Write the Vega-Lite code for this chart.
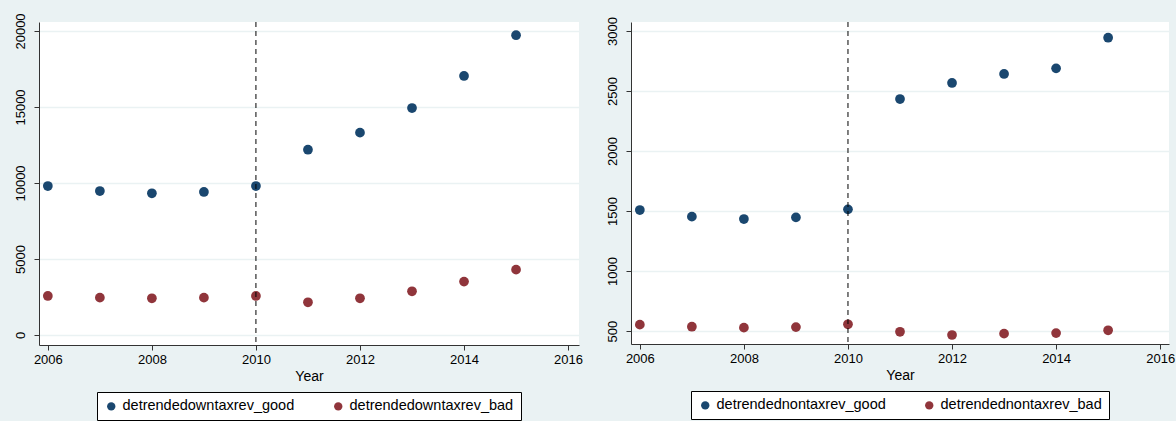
{
  "$schema": "https://vega.github.io/schema/vega-lite/v6.json",
  "background": "#eaf2f3",
  "padding": {"left": 13, "top": 12, "right": 5, "bottom": 1},
  "datasets": {
    "own": [
      {"year": 2006, "series": "detrendedowntaxrev_good", "value": 9800},
      {"year": 2007, "series": "detrendedowntaxrev_good", "value": 9470},
      {"year": 2008, "series": "detrendedowntaxrev_good", "value": 9320},
      {"year": 2009, "series": "detrendedowntaxrev_good", "value": 9410},
      {"year": 2010, "series": "detrendedowntaxrev_good", "value": 9800},
      {"year": 2011, "series": "detrendedowntaxrev_good", "value": 12190},
      {"year": 2012, "series": "detrendedowntaxrev_good", "value": 13310},
      {"year": 2013, "series": "detrendedowntaxrev_good", "value": 14930},
      {"year": 2014, "series": "detrendedowntaxrev_good", "value": 17040},
      {"year": 2015, "series": "detrendedowntaxrev_good", "value": 19720},
      {"year": 2006, "series": "detrendedowntaxrev_bad", "value": 2566},
      {"year": 2007, "series": "detrendedowntaxrev_bad", "value": 2456},
      {"year": 2008, "series": "detrendedowntaxrev_bad", "value": 2412},
      {"year": 2009, "series": "detrendedowntaxrev_bad", "value": 2456},
      {"year": 2010, "series": "detrendedowntaxrev_bad", "value": 2566},
      {"year": 2011, "series": "detrendedowntaxrev_bad", "value": 2150},
      {"year": 2012, "series": "detrendedowntaxrev_bad", "value": 2412},
      {"year": 2013, "series": "detrendedowntaxrev_bad", "value": 2873},
      {"year": 2014, "series": "detrendedowntaxrev_bad", "value": 3510},
      {"year": 2015, "series": "detrendedowntaxrev_bad", "value": 4298}
    ],
    "nontax": [
      {"year": 2006, "series": "detrendednontaxrev_good", "value": 1508},
      {"year": 2007, "series": "detrendednontaxrev_good", "value": 1453},
      {"year": 2008, "series": "detrendednontaxrev_good", "value": 1433},
      {"year": 2009, "series": "detrendednontaxrev_good", "value": 1447},
      {"year": 2010, "series": "detrendednontaxrev_good", "value": 1514},
      {"year": 2011, "series": "detrendednontaxrev_good", "value": 2433},
      {"year": 2012, "series": "detrendednontaxrev_good", "value": 2567},
      {"year": 2013, "series": "detrendednontaxrev_good", "value": 2642},
      {"year": 2014, "series": "detrendednontaxrev_good", "value": 2689},
      {"year": 2015, "series": "detrendednontaxrev_good", "value": 2944},
      {"year": 2006, "series": "detrendednontaxrev_bad", "value": 553},
      {"year": 2007, "series": "detrendednontaxrev_bad", "value": 536},
      {"year": 2008, "series": "detrendednontaxrev_bad", "value": 528},
      {"year": 2009, "series": "detrendednontaxrev_bad", "value": 533},
      {"year": 2010, "series": "detrendednontaxrev_bad", "value": 556},
      {"year": 2011, "series": "detrendednontaxrev_bad", "value": 494},
      {"year": 2012, "series": "detrendednontaxrev_bad", "value": 467},
      {"year": 2013, "series": "detrendednontaxrev_bad", "value": 478},
      {"year": 2014, "series": "detrendednontaxrev_bad", "value": 483},
      {"year": 2015, "series": "detrendednontaxrev_bad", "value": 506}
    ]
  },
  "spacing": 22,
  "resolve": {"scale": {"color": "independent"}, "legend": {"color": "independent"}},
  "hconcat": [
    {
      "width": 540,
      "height": 323,
      "layer": [
        {
          "data": {"name": "own"},
          "mark": {"type": "point", "filled": true, "size": 95, "opacity": 1},
          "encoding": {
            "x": {"field": "year", "type": "quantitative", "title": "Year",
              "scale": {"domain": [2005.83, 2016.21], "nice": false, "zero": false},
              "axis": {"values": [2006, 2008, 2010, 2012, 2014, 2016], "format": "d", "grid": false}},
            "y": {"field": "value", "type": "quantitative", "title": null,
              "scale": {"domain": [-660, 20590], "nice": false, "zero": false},
              "axis": {"values": [0, 5000, 10000, 15000, 20000], "format": "d", "labelAngle": -90, "labelAlign": "center", "labelBaseline": "bottom", "labelPadding": 7}},
            "color": {"field": "series", "type": "nominal",
              "scale": {"domain": ["detrendedowntaxrev_good", "detrendedowntaxrev_bad"], "range": ["#1a476f", "#90353b"]},
              "legend": {"title": null}}
          }
        },
        {
          "data": {"values": [{"year": 2010}]},
          "mark": {"type": "rule", "color": "#000", "strokeDash": [5, 4], "strokeWidth": 1},
          "encoding": {"x": {"field": "year", "type": "quantitative"}}
        }
      ]
    },
    {
      "width": 538,
      "height": 322,
      "layer": [
        {
          "data": {"name": "nontax"},
          "mark": {"type": "point", "filled": true, "size": 95, "opacity": 1},
          "encoding": {
            "x": {"field": "year", "type": "quantitative", "title": "Year",
              "scale": {"domain": [2005.83, 2016.17], "nice": false, "zero": false},
              "axis": {"values": [2006, 2008, 2010, 2012, 2014, 2016], "format": "d", "grid": false}},
            "y": {"field": "value", "type": "quantitative", "title": null,
              "scale": {"domain": [392, 3075], "nice": false, "zero": false},
              "axis": {"values": [500, 1000, 1500, 2000, 2500, 3000], "format": "d", "labelAngle": -90, "labelAlign": "center", "labelBaseline": "bottom", "labelPadding": 7}},
            "color": {"field": "series", "type": "nominal",
              "scale": {"domain": ["detrendednontaxrev_good", "detrendednontaxrev_bad"], "range": ["#1a476f", "#90353b"]},
              "legend": {"title": null}}
          }
        },
        {
          "data": {"values": [{"year": 2010}]},
          "mark": {"type": "rule", "color": "#000", "strokeDash": [5, 4], "strokeWidth": 1},
          "encoding": {"x": {"field": "year", "type": "quantitative"}}
        }
      ]
    }
  ],
  "config": {
    "view": {"fill": "#ffffff", "stroke": null},
    "font": "Liberation Sans",
    "axis": {
      "domainColor": "#333333",
      "tickColor": "#333333",
      "tickSize": 5,
      "labelFont": "Liberation Sans",
      "labelFontSize": 13,
      "labelColor": "#000000",
      "labelPadding": 3,
      "titleFont": "Liberation Sans",
      "titleFontSize": 14,
      "titleFontWeight": "normal",
      "titleColor": "#000000",
      "titlePadding": 3,
      "gridColor": "#eaf2f3",
      "gridWidth": 1.5
    },
    "legend": {
      "orient": "bottom",
      "direction": "horizontal",
      "layout": {"bottom": {"anchor": "middle"}},
      "offset": 9,
      "strokeColor": "#000000",
      "fillColor": "#ffffff",
      "padding": 7,
      "labelFont": "Liberation Sans",
      "labelFontSize": 14.5,
      "labelColor": "#000000",
      "labelLimit": 0,
      "symbolType": "circle",
      "symbolSize": 70,
      "symbolStrokeWidth": 0,
      "columnPadding": 36
    }
  }
}
